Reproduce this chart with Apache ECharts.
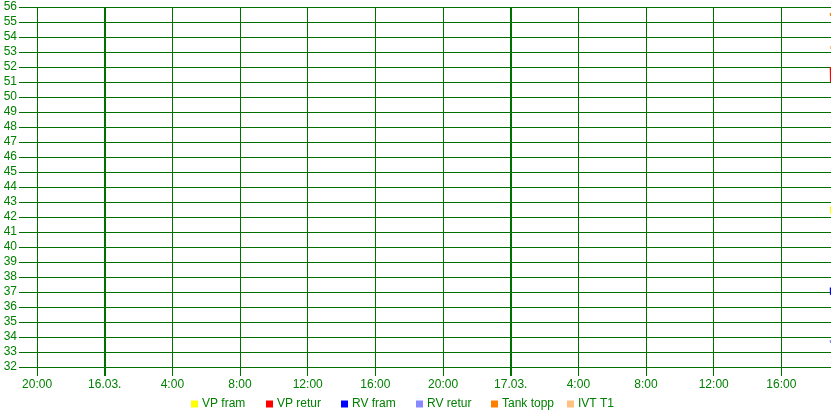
<!DOCTYPE html>
<html>
<head>
<meta charset="utf-8">
<script src="https://cdn.jsdelivr.net/npm/echarts@6/dist/echarts.min.js"></script>
<style>
html,body{margin:0;padding:0;background:#fff;}
#c{width:831px;height:414px;}
</style>
</head>
<body>
<div id="c"></div>
<script>
// ---- data ----
const seriesNames = ['VP fram', 'VP retur', 'RV fram', 'RV retur', 'Tank topp', 'IVT T1'];
const seriesColors = ['#ffff00', '#ff0000', '#0000ff', '#8888ff', '#ff8000', '#ffc080'];
// sample times: [day, hour, minute] in March
const sampleTimes = [[17, 18, 55], [17, 18, 56]];
const vpFram = [42.7, 42.2];
const vpRetur = [52.0, 51.0];
const rvFram = [37.3, 36.8];
const rvRetur = [33.8, 33.6];
const tankTopp = [55.6, 55.4];
const ivtT1 = [53.4, 53.2];
// x range
const rangeStart = [15, 18, 56];
const rangeEnd = [17, 18, 56];
// tick labels (day, hour)
const tickTimes = [[15, 20], [16, 0], [16, 4], [16, 8], [16, 12], [16, 16], [16, 20], [17, 0], [17, 4], [17, 8], [17, 12], [17, 16]];
const dayBoundaries = [[16, 0], [17, 0]];
const yMin = 32, yMax = 56;
const legendLeft = [191, 266, 341, 416, 491, 567];

// hours since 15.03. 00:00
const baseDay = 15;
function t(d, h, m) { return (d - baseDay) * 24 + h + (m || 0) / 60; }
const allValues = [vpFram, vpRetur, rvFram, rvRetur, tankTopp, ivtT1];
const xMin = t(rangeStart[0], rangeStart[1], rangeStart[2]);
const xMax = t(rangeEnd[0], rangeEnd[1], rangeEnd[2]);
const tickVals = tickTimes.map(a => t(a[0], a[1]));
const dayVals = dayBoundaries.map(a => t(a[0], a[1]));

const green = '#008000';
const lineGreen = '#007000';
const font = 'Arial, "Liberation Sans", sans-serif';

function fmt(v) {
  const hrs = Math.round(v);
  const h = ((hrs % 24) + 24) % 24;
  if (h === 0) {
    const day = baseDay + Math.floor(hrs / 24);
    return String(day).padStart(2, '0') + '.03.';
  }
  return h + ':00';
}

const chart = echarts.init(document.getElementById('c'));
const option = {
  animation: false,
  backgroundColor: '#ffffff',
  grid: { left: 19, right: 0, top: 7, bottom: 47, containLabel: false },
  legend: seriesNames.map((n, i) => ({
    data: [n],
    left: legendLeft[i],
    top: 398,
    padding: 0,
    itemWidth: 7,
    itemHeight: 7,
    icon: 'rect',
    selectedMode: false,
    textStyle: { color: green, fontSize: 12, fontFamily: font, padding: [0, 0, 0, -1] }
  })),
  xAxis: [{
    type: 'value',
    min: xMin,
    max: xMax,
    axisLine: { show: false },
    axisTick: { show: true, length: 9, customValues: tickVals, lineStyle: { color: lineGreen, width: 1 } },
    axisLabel: { customValues: tickVals, formatter: fmt, color: green, fontSize: 12, fontFamily: font, margin: 12, showMinLabel: true, showMaxLabel: true },
    splitLine: { show: true, lineStyle: { color: lineGreen, width: 1 } }
  }, {
    type: 'value',
    min: xMin,
    max: xMax,
    position: 'bottom',
    axisLine: { show: false },
    axisTick: { show: true, length: 9, customValues: dayVals, lineStyle: { color: lineGreen, width: 2 } },
    axisLabel: { show: false, customValues: dayVals },
    splitLine: { show: true, lineStyle: { color: lineGreen, width: 2 } }
  }],
  yAxis: {
    type: 'value',
    min: yMin,
    max: yMax,
    interval: 1,
    axisLine: { show: false },
    axisTick: { show: false },
    axisLabel: { color: green, fontSize: 12, fontFamily: font, margin: 2 },
    splitLine: { show: true, lineStyle: { color: lineGreen, width: 1 } }
  },
  series: seriesNames.map((n, i) => ({
    name: n,
    type: 'line',
    xAxisIndex: 0,
    symbol: 'none',
    color: seriesColors[i],
    lineStyle: { width: 2, color: seriesColors[i] },
    data: sampleTimes.map((s, k) => [t(s[0], s[1], s[2]), allValues[i][k]])
  }))
};
chart.setOption(option);
</script>
</body>
</html>
